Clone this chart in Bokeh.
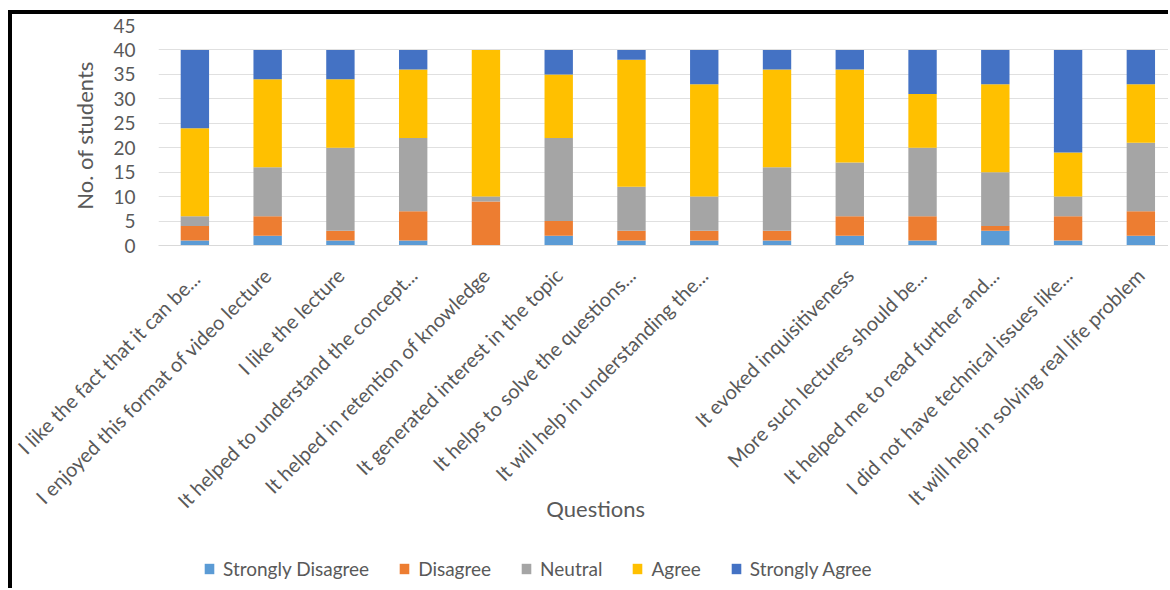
import math
from bokeh.plotting import figure
from bokeh.layouts import column
from bokeh.models import (ColumnDataSource, Range1d, FixedTicker, Legend, Label,
                          SingleIntervalTicker)
from bokeh.embed import file_html
from bokeh.resources import INLINE

questions = [
    "I  like the fact that it can be...",
    "I enjoyed this format of video lecture",
    "I like the lecture",
    "It helped to understand the concept...",
    "It helped in retention of knowledge",
    "It generated interest in the topic",
    "It helps to solve the questions...",
    "It will help in understanding the...",
    "",
    "It evoked inquisitiveness",
    "More such lectures should be...",
    "It helped me to read further and...",
    "I did not have technical issues like...",
    "It will help in solving real life problem",
]
strongly_disagree = [1, 2, 1, 1, 0, 2, 1, 1, 1, 2, 1, 3, 1, 2]
disagree          = [3, 4, 2, 6, 9, 3, 2, 2, 2, 4, 5, 1, 5, 5]
neutral           = [2, 10, 17, 15, 1, 17, 9, 7, 13, 11, 14, 11, 4, 14]
agree             = [18, 18, 14, 14, 30, 13, 26, 23, 20, 19, 11, 18, 9, 12]
strongly_agree    = [16, 6, 6, 4, 0, 5, 2, 7, 4, 4, 9, 7, 21, 7]

series = ["Strongly Disagree", "Disagree", "Neutral", "Agree", "Strongly Agree"]
colors = ["#5B9BD5", "#ED7D31", "#A5A5A5", "#FFC000", "#4472C4"]
x_title = "Questions"
y_title = "No. of students"

FONT = "Lato"
TXT = "#595959"

pos = list(range(len(questions)))
source = ColumnDataSource(data={
    "x": pos,
    "Strongly Disagree": strongly_disagree,
    "Disagree": disagree,
    "Neutral": neutral,
    "Agree": agree,
    "Strongly Agree": strongly_agree,
})

p = figure(width=1160, height=578, output_backend="svg", toolbar_location=None,
           x_range=Range1d(-0.5, 13.435), y_range=Range1d(0, 45),
           min_border_left=146, min_border_top=11, min_border_bottom=347,
           min_border_right=0)
p.outline_line_color = None
p.styles = {"border-top": "4px solid black", "border-left": "4px solid black",
            "margin-top": "10px", "margin-left": "8px"}

p.vbar_stack(series, x="x", width=0.39, color=colors, source=source,
             line_color=None)

# axes
p.xaxis.ticker = FixedTicker(ticks=pos)
p.xaxis.major_label_overrides = {i: q for i, q in enumerate(questions)}
p.xaxis.major_label_orientation = math.pi / 4
p.xaxis.major_tick_line_color = None
p.xaxis.minor_tick_line_color = None
p.xaxis.axis_line_color = "#d9d9d9"
p.xaxis.major_label_text_font = FONT
p.xaxis.major_label_text_font_size = "20px"
p.xaxis.major_label_text_color = TXT
p.xaxis.major_label_standoff = 20

p.yaxis.ticker = SingleIntervalTicker(interval=5)
p.yaxis.axis_line_color = None
p.yaxis.major_tick_line_color = None
p.yaxis.minor_tick_line_color = None
p.yaxis.major_label_text_font = FONT
p.yaxis.major_label_text_font_size = "19px"
p.yaxis.major_label_text_color = TXT
p.yaxis.major_label_standoff = 17
p.yaxis.axis_label = y_title
p.yaxis.axis_label_text_font = FONT
p.yaxis.axis_label_text_font_size = "22px"
p.yaxis.axis_label_text_font_style = "normal"
p.yaxis.axis_label_text_color = TXT
p.yaxis.axis_label_standoff = 12

p.xgrid.grid_line_color = None
p.ygrid.grid_line_color = "#e0e0e0"
p.ygrid.grid_line_width = 1

# overlay strip for the x title and the legend (its frame lines up with the
# main plot's frame, so the x range is in page pixels)
p2 = figure(width=1156, height=100, output_backend="svg", toolbar_location=None,
            x_range=Range1d(157.7, 1168), y_range=Range1d(0, 100),
            x_axis_type=None, y_axis_type=None, min_border=0)
p2.outline_line_color = None
p2.background_fill_alpha = 0
p2.border_fill_alpha = 0
p2.styles = {"margin-top": "-100px", "margin-left": "12px"}

p2.add_layout(Label(x=595, y=80, text=x_title, text_align="center",
                    text_baseline="middle", text_font=FONT,
                    text_font_size="22px", text_color=TXT))

# zero-height swatch bars, only used to show the legend keys
swatches = [p2.vbar(x=[0], top=[0], bottom=[0], width=0, color=c,
                    line_color=None) for c in colors]
legend = Legend(items=[(s, [r]) for s, r in zip(series, swatches)],
                location=(45, 8), orientation="horizontal",
                glyph_width=12, glyph_height=13, label_standoff=8, spacing=29,
                padding=0, margin=0, border_line_color=None,
                background_fill_alpha=0,
                label_text_font=FONT, label_text_font_size="19px",
                label_text_color=TXT)
p2.add_layout(legend, "center")

layout = column(p, p2)
open("out.html", "w").write(file_html(layout, INLINE))
